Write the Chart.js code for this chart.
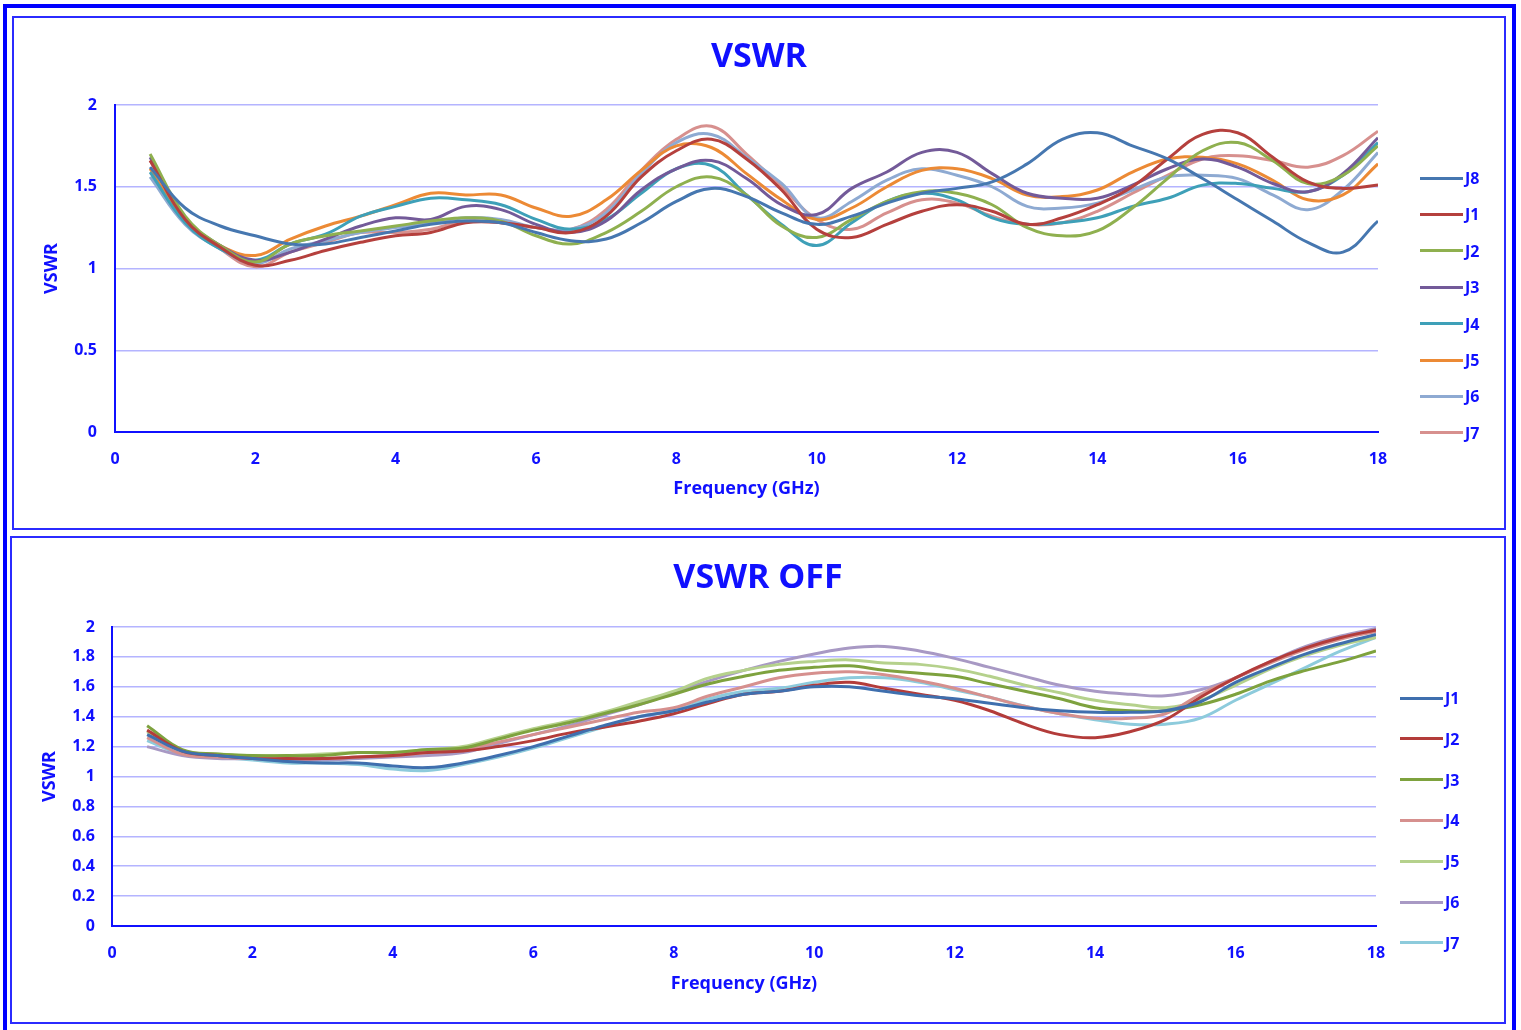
<!DOCTYPE html>
<html>
<head>
<meta charset="utf-8">
<title>VSWR</title>
<script src="https://cdn.jsdelivr.net/npm/chart.js@4.4.1/dist/chart.umd.min.js"></script>
<style>
  body { margin: 0; width: 1521px; height: 1030px; overflow: hidden; position: relative; background: #fff; font-family: "Open Sans", sans-serif; }
  #frame { position: absolute; left: 3px; top: 4px; width: 1505px; height: 1060px; border: 4px solid #0000ff; border-bottom: none; }
  .box { position: absolute; border: 2px solid #2b2bff; box-sizing: border-box; }
  canvas { position: absolute; }
  .leg-line { position: absolute; width: 43px; height: 3px; }
  .leg-text { position: absolute; font: bold 16px/22px "Open Sans", sans-serif; color: #1010ff; }
</style>
</head>
<body>
<div id="frame"></div>
<div class="box" style="left:12px; top:16px; width:1494px; height:514px;"></div>
<div class="box" style="left:10px; top:536px; width:1496px; height:488px;"></div>
<canvas id="vswrOn" width="1490" height="510" style="left:14px; top:18px;"></canvas>
<canvas id="vswrOff" width="1492" height="484" style="left:12px; top:538px;"></canvas>
<script>
  // frequency points (GHz)
  const freq = [0.5, 1, 1.5, 2, 2.5, 3, 3.5, 4, 4.5, 5, 5.5, 6, 6.5, 7, 7.5, 8, 8.5, 9,
    9.5, 10, 10.5, 11, 11.5, 12, 12.5, 13, 13.5, 14, 14.5, 15, 15.5, 16, 16.5, 17, 17.5, 18];

  const xTicks = [0, 2, 4, 6, 8, 10, 12, 14, 16, 18];
  const yTicksOn = [0, 0.5, 1, 1.5, 2];
  const yTicksOff = [0, 0.2, 0.4, 0.6, 0.8, 1, 1.2, 1.4, 1.6, 1.8, 2];

  // VSWR (top chart)
  const onNames = ["J8", "J1", "J2", "J3", "J4", "J5", "J6", "J7"];
  const onJ8 = [1.62, 1.37, 1.26, 1.2, 1.15, 1.15, 1.19, 1.23, 1.27, 1.29, 1.28, 1.22, 1.17, 1.18, 1.28, 1.41, 1.49, 1.44,
    1.34, 1.27, 1.32, 1.40, 1.46, 1.49, 1.53, 1.64, 1.79, 1.83, 1.75, 1.67, 1.55, 1.42, 1.29, 1.16, 1.10, 1.29];
  const onJ1 = [1.66, 1.30, 1.13, 1.02, 1.05, 1.11, 1.16, 1.20, 1.22, 1.28, 1.28, 1.25, 1.22, 1.32, 1.56, 1.72, 1.79, 1.67,
    1.48, 1.24, 1.19, 1.27, 1.35, 1.39, 1.35, 1.27, 1.31, 1.39, 1.50, 1.67, 1.82, 1.83, 1.68, 1.53, 1.49, 1.51];
  const onJ2 = [1.70, 1.32, 1.14, 1.04, 1.15, 1.20, 1.23, 1.26, 1.29, 1.31, 1.29, 1.20, 1.15, 1.22, 1.35, 1.50, 1.56, 1.45,
    1.26, 1.19, 1.30, 1.41, 1.47, 1.46, 1.39, 1.25, 1.20, 1.23, 1.37, 1.55, 1.72, 1.77, 1.66, 1.52, 1.57, 1.75];
  const onJ3 = [1.68, 1.31, 1.14, 1.05, 1.10, 1.18, 1.26, 1.31, 1.30, 1.38, 1.36, 1.27, 1.22, 1.29, 1.48, 1.61, 1.66, 1.55,
    1.39, 1.33, 1.49, 1.59, 1.71, 1.71, 1.58, 1.46, 1.43, 1.43, 1.51, 1.61, 1.67, 1.62, 1.52, 1.47, 1.58, 1.80];
  const onJ4 = [1.59, 1.28, 1.12, 1.05, 1.15, 1.21, 1.32, 1.38, 1.43, 1.42, 1.39, 1.30, 1.24, 1.30, 1.46, 1.61, 1.63, 1.45,
    1.27, 1.14, 1.28, 1.41, 1.46, 1.42, 1.31, 1.27, 1.28, 1.31, 1.38, 1.43, 1.51, 1.52, 1.49, 1.47, 1.57, 1.77];
  const onJ5 = [1.61, 1.29, 1.14, 1.08, 1.18, 1.26, 1.32, 1.39, 1.46, 1.45, 1.45, 1.37, 1.32, 1.42, 1.60, 1.75, 1.74, 1.58,
    1.42, 1.30, 1.37, 1.50, 1.60, 1.61, 1.55, 1.45, 1.44, 1.48, 1.59, 1.67, 1.68, 1.64, 1.54, 1.42, 1.45, 1.64];
  const onJ6 = [1.56, 1.27, 1.12, 1.03, 1.12, 1.17, 1.22, 1.25, 1.28, 1.31, 1.30, 1.25, 1.24, 1.34, 1.58, 1.77, 1.82, 1.68,
    1.52, 1.31, 1.41, 1.54, 1.61, 1.57, 1.50, 1.38, 1.37, 1.40, 1.48, 1.56, 1.57, 1.55, 1.45, 1.36, 1.48, 1.71];
  const onJ7 = [1.66, 1.30, 1.12, 1.01, 1.10, 1.16, 1.22, 1.22, 1.24, 1.29, 1.28, 1.25, 1.24, 1.36, 1.60, 1.79, 1.87, 1.70,
    1.50, 1.30, 1.24, 1.34, 1.42, 1.40, 1.32, 1.27, 1.28, 1.35, 1.46, 1.57, 1.67, 1.69, 1.66, 1.62, 1.69, 1.84];
  const onColors = ["#4677b0", "#b5403d", "#8fb04f", "#735a99", "#3ea0b8", "#ec8a35", "#8eaad2", "#d7908e"];

  // VSWR OFF (bottom chart)
  const offNames = ["J1", "J2", "J3", "J4", "J5", "J6", "J7"];
  const offJ1 = [1.28, 1.17, 1.14, 1.12, 1.10, 1.09, 1.09, 1.07, 1.06, 1.09, 1.14, 1.20, 1.27, 1.34, 1.40, 1.44, 1.50, 1.55,
    1.57, 1.60, 1.60, 1.57, 1.54, 1.52, 1.49, 1.46, 1.44, 1.43, 1.43, 1.44, 1.50, 1.63, 1.73, 1.82, 1.89, 1.95];
  const offJ2 = [1.31, 1.17, 1.14, 1.12, 1.12, 1.12, 1.13, 1.14, 1.16, 1.17, 1.20, 1.24, 1.29, 1.33, 1.37, 1.42, 1.49, 1.55,
    1.57, 1.61, 1.63, 1.59, 1.55, 1.51, 1.44, 1.35, 1.28, 1.26, 1.30, 1.38, 1.53, 1.66, 1.77, 1.86, 1.93, 1.98];
  const offJ3 = [1.34, 1.18, 1.15, 1.14, 1.14, 1.14, 1.16, 1.16, 1.18, 1.19, 1.25, 1.31, 1.36, 1.42, 1.48, 1.55, 1.62, 1.67,
    1.71, 1.73, 1.74, 1.71, 1.69, 1.67, 1.62, 1.57, 1.52, 1.46, 1.44, 1.44, 1.48, 1.55, 1.64, 1.71, 1.77, 1.84];
  const offJ4 = [1.26, 1.15, 1.13, 1.12, 1.12, 1.12, 1.13, 1.14, 1.16, 1.18, 1.23, 1.28, 1.33, 1.38, 1.43, 1.46, 1.54, 1.60,
    1.66, 1.69, 1.70, 1.68, 1.64, 1.59, 1.53, 1.47, 1.42, 1.39, 1.39, 1.42, 1.55, 1.66, 1.76, 1.85, 1.92, 1.97];
  const offJ5 = [1.30, 1.17, 1.15, 1.14, 1.14, 1.15, 1.16, 1.16, 1.18, 1.20, 1.26, 1.32, 1.37, 1.43, 1.50, 1.57, 1.66, 1.71,
    1.75, 1.77, 1.78, 1.76, 1.75, 1.72, 1.67, 1.61, 1.56, 1.51, 1.48, 1.46, 1.51, 1.61, 1.72, 1.81, 1.88, 1.93];
  const offJ6 = [1.20, 1.14, 1.12, 1.12, 1.11, 1.11, 1.12, 1.13, 1.14, 1.16, 1.22, 1.28, 1.34, 1.41, 1.48, 1.56, 1.64, 1.71,
    1.77, 1.82, 1.86, 1.87, 1.84, 1.79, 1.73, 1.67, 1.61, 1.57, 1.55, 1.54, 1.58, 1.66, 1.77, 1.87, 1.94, 1.99];
  const offJ7 = [1.24, 1.15, 1.13, 1.11, 1.09, 1.09, 1.08, 1.05, 1.04, 1.08, 1.13, 1.19, 1.26, 1.33, 1.40, 1.44, 1.52, 1.57,
    1.59, 1.63, 1.66, 1.66, 1.63, 1.58, 1.53, 1.47, 1.42, 1.38, 1.35, 1.35, 1.39, 1.51, 1.62, 1.73, 1.84, 1.93];
  const offColors = ["#3f6fae", "#b33c3a", "#7ea23e", "#d6908e", "#b5d18c", "#a899c4", "#8dcbdc"];

  const blue = "#1010ff";
  const gridBlue = "#b4b4ff";

  Chart.defaults.font.family = '"Open Sans", sans-serif';
  Chart.defaults.font.weight = "bold";
  Chart.defaults.color = blue;

  function makeChart(id, titleText, names, series, colors, yTicks, box) {
    const ctx = document.getElementById(id);
    return new Chart(ctx, {
      type: "line",
      data: {
        datasets: names.map((name, i) => ({
          label: name,
          data: freq.map((f, j) => ({ x: f, y: series[i][j] })),
          borderColor: colors[i],
          backgroundColor: colors[i],
          borderWidth: 3,
          pointRadius: 0,
          tension: 0.4,
          fill: false,
        })),
      },
      options: {
        responsive: false,
        animation: false,
        devicePixelRatio: 1,
        layout: { padding: 0 },
        plugins: {
          legend: { display: false },
          tooltip: { enabled: false },
          title: {
            display: true,
            text: titleText,
            color: blue,
            font: { size: 34, weight: "bold" },
            padding: { top: box.titleTop, bottom: box.titleBottom },
          },
        },
        scales: {
          x: {
            type: "linear",
            min: 0,
            max: 18,
            afterBuildTicks: (s) => { s.ticks = xTicks.map((v) => ({ value: v })); },
            afterFit: (s) => { s.height = box.xHeight; },
            grid: { display: false },
            border: { display: true, color: blue, width: 2 },
            ticks: { color: blue, font: { size: 16, weight: "bold" }, padding: 10, maxRotation: 0, autoSkip: false },
            title: {
              display: true,
              text: "Frequency (GHz)",
              color: blue,
              font: { size: 18, weight: "bold" },
              padding: { top: 0, bottom: box.xTitleBottom },
            },
          },
          y: {
            type: "linear",
            min: 0,
            max: 2,
            afterBuildTicks: (s) => { s.ticks = yTicks.map((v) => ({ value: v })); },
            afterFit: (s) => { s.width = box.yWidth; },
            grid: {
              color: (c) => (c.tick && c.tick.value === 0 ? "rgba(0,0,0,0)" : gridBlue),
              lineWidth: 1.5,
              drawTicks: false,
            },
            border: { display: true, color: blue, width: 2 },
            ticks: {
              color: blue,
              font: { size: 16, weight: "bold" },
              padding: box.yTickPad,
              autoSkip: false,
              callback: (v) => String(Math.round(v * 10) / 10),
            },
            title: {
              display: true,
              text: "VSWR",
              color: blue,
              font: { size: 18, weight: "bold" },
              padding: { top: box.yTitleTop, bottom: 0 },
            },
          },
          // empty axis on the right, only reserves the room where the legend sits
          side: {
            type: "linear",
            position: "right",
            afterFit: (s) => { s.width = box.rightRoom; },
            grid: { display: false },
            border: { display: false },
            ticks: { display: false },
          },
        },
      },
    });
  }

  // legend drawn as html, built from the chart's datasets
  function buildLegend(chart, lineLeft, firstY, step) {
    chart.data.datasets.forEach((ds, i) => {
      const cy = firstY + i * step;
      const line = document.createElement("div");
      line.className = "leg-line";
      line.style.left = lineLeft + "px";
      line.style.top = cy - 1.5 + "px";
      line.style.background = ds.borderColor;
      document.body.appendChild(line);

      const label = document.createElement("div");
      label.className = "leg-text";
      label.textContent = ds.label;
      label.style.left = lineLeft + 45 + "px";
      label.style.top = cy - 11 + "px";
      document.body.appendChild(label);
    });
  }

  const onChart = makeChart("vswrOn", "VSWR", onNames,
    [onJ8, onJ1, onJ2, onJ3, onJ4, onJ5, onJ6, onJ7], onColors, yTicksOn,
    { rightRoom: 126, titleTop: 19, titleBottom: 27.2, xHeight: 96, xTitleBottom: 28, yWidth: 101, yTickPad: 18, yTitleTop: 27 });

  const offChart = makeChart("vswrOff", "VSWR OFF", offNames,
    [offJ1, offJ2, offJ3, offJ4, offJ5, offJ6, offJ7], offColors, yTicksOff,
    { rightRoom: 128, titleTop: 20, titleBottom: 28.2, xHeight: 96, xTitleBottom: 27, yWidth: 100, yTickPad: 17, yTitleTop: 27 });

  buildLegend(onChart, 1420, 178, 36.4);
  buildLegend(offChart, 1400, 698, 40.8);
</script>
</body>
</html>
